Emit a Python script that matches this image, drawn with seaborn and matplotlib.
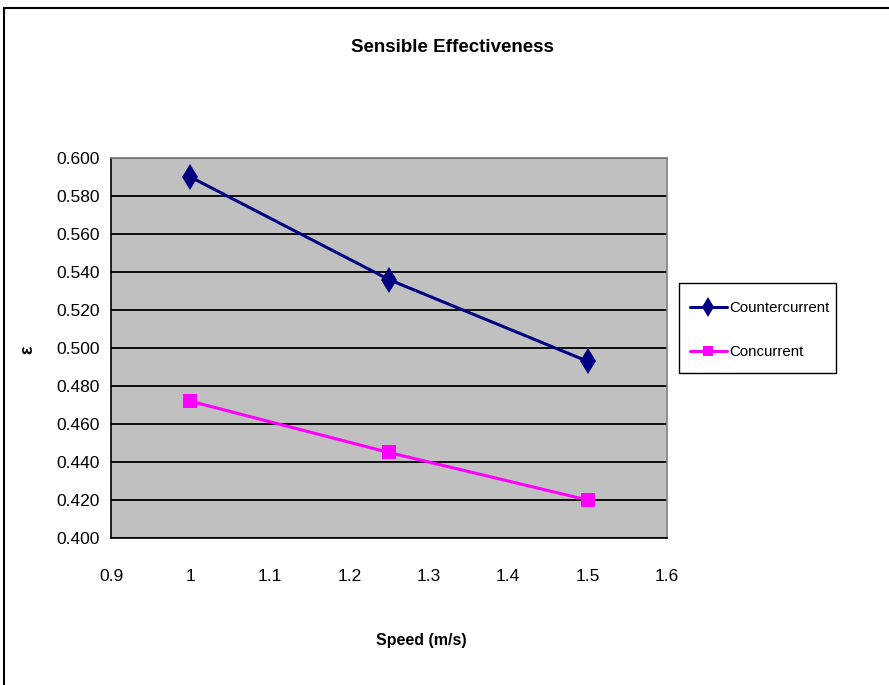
import seaborn as sns
import pandas as pd
import matplotlib.pyplot as plt
from matplotlib.patches import Rectangle
from matplotlib.lines import Line2D

# values
speed = [1.0, 1.25, 1.5]
countercurrent = [0.590, 0.536, 0.493]
concurrent = [0.472, 0.445, 0.420]
series_names = ['Countercurrent', 'Concurrent']

x_ticks = [0.9, 1.0, 1.1, 1.2, 1.3, 1.4, 1.5, 1.6]
x_tick_labels = ['0.9', '1', '1.1', '1.2', '1.3', '1.4', '1.5', '1.6']
y_ticks = [0.400, 0.420, 0.440, 0.460, 0.480, 0.500, 0.520, 0.540, 0.560, 0.580, 0.600]
y_tick_labels = ['0.400', '0.420', '0.440', '0.460', '0.480', '0.500',
                 '0.520', '0.540', '0.560', '0.580', '0.600']

sns.set_style('white')
plt.rcParams['font.family'] = ['Liberation Sans', 'DejaVu Sans']
plt.rcParams['text.color'] = 'black'
plt.rcParams['xtick.color'] = 'black'
plt.rcParams['ytick.color'] = 'black'

df = pd.DataFrame({
    'Speed': speed + speed,
    'eps': countercurrent + concurrent,
    'Series': [series_names[0]] * len(speed) + [series_names[1]] * len(speed),
})

colors = {'Countercurrent': '#000080', 'Concurrent': '#FF00FF'}
marks = {'Countercurrent': 'd', 'Concurrent': 's'}
msize = {'Countercurrent': 13, 'Concurrent': 10}

fig = plt.figure(figsize=(8.89, 6.85), dpi=100)
ax = fig.add_axes([111/889, 1-538/685, 556/889, 380/685])
ax.set_facecolor('#C0C0C0')

for name in series_names:
    sub = df[df['Series'] == name]
    sns.lineplot(data=sub, x='Speed', y='eps', color=colors[name], marker=marks[name],
                 markersize=msize[name], markeredgewidth=0, linewidth=2.2, ax=ax,
                 legend=False, zorder=3)

ax.set_xlim(0.9, 1.6)
ax.set_ylim(0.4, 0.6)
ax.set_xticks(x_ticks)
ax.set_xticklabels(x_tick_labels)
ax.set_yticks(y_ticks)
ax.set_yticklabels(y_tick_labels)
ax.yaxis.grid(True, color='black', linewidth=1.3)
ax.xaxis.grid(False)
ax.set_xlabel('')
ax.set_ylabel('')
ax.tick_params(axis='both', direction='out', length=5, width=1, color='black',
               labelsize=12.5, labelcolor='black')
ax.tick_params(axis='x', pad=17)
ax.tick_params(axis='y', pad=3)
for s in ['left', 'bottom']:
    ax.spines[s].set_color('black')
    ax.spines[s].set_linewidth(1.2)
for s in ['top', 'right']:
    ax.spines[s].set_color('#808080')
    ax.spines[s].set_linewidth(1.2)

fig.text(452/889, 1-47/685, 'Sensible Effectiveness', ha='center', va='center',
         fontsize=13.5, fontweight='bold')
fig.text(421/889, 1-640/685, 'Speed (m/s)', ha='center', va='center',
         fontsize=11.5, fontweight='bold')
fig.text(28/889, 1-350/685, 'ε', ha='center', va='center', rotation=90,
         fontsize=13, fontweight='bold')

# legend without its own frame, box drawn separately
handles = [Line2D([], [], color=colors[n], marker=marks[n], markersize=msize[n] * 0.75,
                  markeredgewidth=0, linewidth=2.2) for n in series_names]
leg = fig.legend(handles, series_names, loc='center left',
                 bbox_to_anchor=(690/889, 1-330/685), frameon=False,
                 fontsize=10.8, handlelength=2.45, handletextpad=0.2,
                 labelspacing=2.0, borderpad=0, borderaxespad=0)
fig.patches.append(Rectangle((679/889, 1-373/685), 157/889, 90/685,
                             transform=fig.transFigure, fill=False,
                             edgecolor='black', linewidth=1.0))

fig.patches.append(Rectangle((4/889, -0.1), 1.2, 1-8/685+0.1, transform=fig.transFigure,
                             fill=False, edgecolor='black', linewidth=1.5))

fig.savefig('out.png', dpi=100)
